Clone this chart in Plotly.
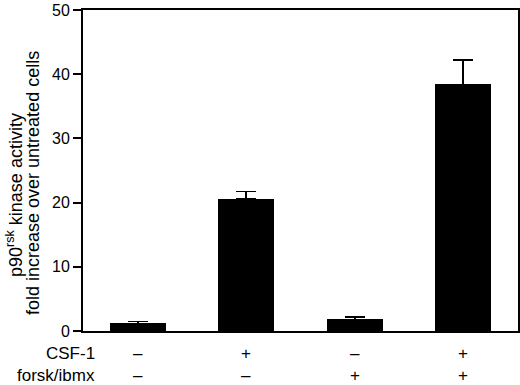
import plotly.graph_objects as go

categories = ["ctrl", "CSF-1", "forsk/ibmx", "CSF-1 + forsk/ibmx"]
values = [1.2, 20.6, 1.8, 38.4]
errors = [0.25, 1.1, 0.4, 3.8]
csf1_signs = ["–", "+", "–", "+"]
forsk_signs = ["–", "–", "+", "+"]
row_labels = ["CSF-1", "forsk/ibmx"]
y_ticks = [0, 10, 20, 30, 40, 50]

FONT = "Liberation Sans, Arial, Helvetica, sans-serif"

W, H = 520, 385
ml, mr, mt, mb = 83, 2, 10, 54
pw, ph = W - ml - mr, H - mt - mb

fig = go.Figure()
fig.add_trace(go.Bar(
    x=list(range(len(categories))), y=values, width=0.515,
    marker=dict(color="black", line=dict(width=0)),
    error_y=dict(type="data", array=errors, arrayminus=[0]*len(errors), symmetric=False,
                 color="black", thickness=1.6, width=10),
    hovertext=categories,
))

def py(p):
    return (H - mb - p) / ph

def px(p):
    return (p - ml) / pw

ann = []
for i, s in enumerate(csf1_signs):
    ann.append(dict(x=i, y=py(354), xref="x", yref="paper", text=s, showarrow=False,
                    yanchor="middle", font=dict(size=17, family=FONT)))
for i, s in enumerate(forsk_signs):
    ann.append(dict(x=i, y=py(376), xref="x", yref="paper", text=s, showarrow=False,
                    yanchor="middle", font=dict(size=17, family=FONT)))
ann.append(dict(x=px(70), y=py(353), xref="paper", yref="paper", text=row_labels[0],
                showarrow=False, xanchor="center", yanchor="middle", font=dict(size=17, family=FONT)))
ann.append(dict(x=px(56), y=py(375), xref="paper", yref="paper", text=row_labels[1],
                showarrow=False, xanchor="center", yanchor="middle", font=dict(size=17, family=FONT)))
ann.append(dict(x=px(15), y=py(195), xref="paper", yref="paper",
                text="p90<sup>rsk</sup> kinase activity", textangle=-90, showarrow=False,
                xanchor="center", yanchor="middle", font=dict(size=18, family=FONT)))
ann.append(dict(x=px(33), y=py(183), xref="paper", yref="paper",
                text="fold increase over untreated cells", textangle=-90, showarrow=False,
                xanchor="center", yanchor="middle", font=dict(size=18, family=FONT)))

fig.update_layout(
    width=W, height=H,
    margin=dict(l=ml, r=mr, t=mt, b=mb, autoexpand=False),
    paper_bgcolor="white", plot_bgcolor="white",
    font=dict(family=FONT, size=16, color="black"),
    showlegend=False,
    bargap=0,
    annotations=ann,
    xaxis=dict(range=[-0.505, 3.505], showticklabels=False, ticks="",
               showline=True, linecolor="black", linewidth=1.8, mirror=True,
               showgrid=False, zeroline=False, fixedrange=True),
    yaxis=dict(range=[0, 50], tickvals=y_ticks, ticks="outside", ticklen=8, tickwidth=1.5,
               tickcolor="black", showline=True, linecolor="black", linewidth=1.8, mirror=True,
               showgrid=False, zeroline=False, tickfont=dict(size=16, family=FONT),
               fixedrange=True),
)

fig.write_html("out.html", config={"displayModeBar": False},
               post_script="document.body.style.margin='0';document.body.style.overflow='hidden';")
